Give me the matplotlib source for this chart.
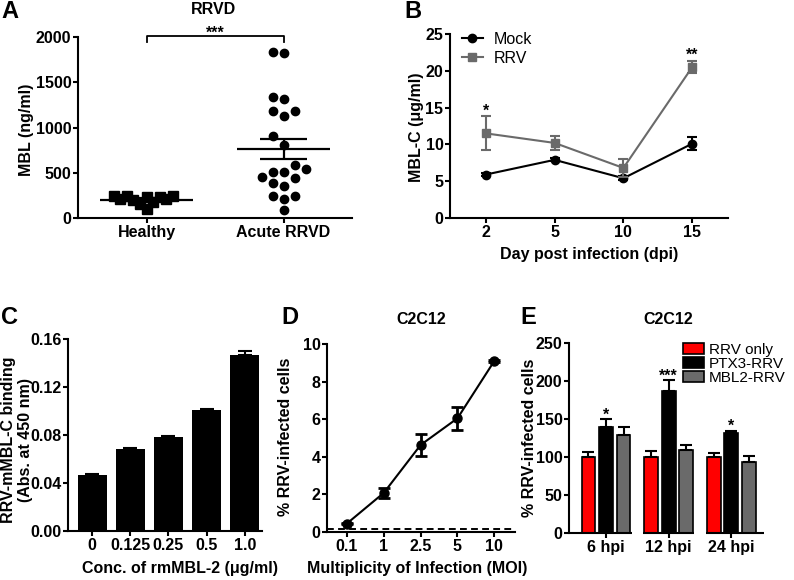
import numpy as np
import matplotlib
matplotlib.use("Agg")
import matplotlib.pyplot as plt
from matplotlib.lines import Line2D
from matplotlib.patches import Patch

# ---------------- data ----------------
# Panel A
a_groups = ["Healthy", "Acute RRVD"]
a_healthy = [240, 230, 245, 205, 235, 100, 240, 180, 160, 205, 195]
a_acute = [1820, 1830, 1311, 1333, 1182, 1182, 1127, 906, 806, 585, 541,
           505, 505, 445, 453, 357, 386, 243, 210, 243, 85]
a_title = "RRVD"
a_sig = "***"

# Panel B
b_days = ["2", "5", "10", "15"]
b_mock = [5.9, 7.9, 5.4, 10.1]
b_mock_err = [0.15, 0.2, 0.3, 0.85]
b_rrv = [11.5, 10.2, 6.8, 20.5]
b_rrv_err = [2.3, 1.0, 1.25, 0.85]
b_stars = ["*", "", "", "**"]

# Panel C
c_conc = ["0", "0.125", "0.25", "0.5", "1.0"]
c_binding = [0.0467, 0.068, 0.078, 0.1012, 0.1465]
c_binding_err = [0.0005, 0.001, 0.001, 0.0005, 0.0035]

# Panel D
d_moi = ["0.1", "1", "2.5", "5", "10"]
d_infected = [0.45, 2.08, 4.63, 6.05, 9.1]
d_infected_err = [0.05, 0.25, 0.6, 0.6, 0.05]
d_baseline = 0.15

# Panel E
e_hpi = ["6 hpi", "12 hpi", "24 hpi"]
e_series = ["RRV only", "PTX3-RRV", "MBL2-RRV"]
e_rrv_only = [100, 100, 100]
e_rrv_only_err = [7, 8, 5]
e_ptx3 = [139, 187, 131]
e_ptx3_err = [11, 14, 3.5]
e_mbl2 = [129, 109, 93]
e_mbl2_err = [10, 7, 8]
e_stars = ["*", "***", "*"]

# ---------------- style ----------------
FS = 11.5
plt.rcParams["font.family"] = ["Liberation Sans", "DejaVu Sans"]
plt.rcParams.update({
    "font.weight": "bold",
    "axes.linewidth": 1.5,
    "xtick.major.width": 1.5,
    "ytick.major.width": 1.5,
    "xtick.major.size": 3.5,
    "ytick.major.size": 3.5,
    "xtick.major.pad": 1.2,
    "ytick.major.pad": 1.2,
    "xtick.labelsize": FS,
    "ytick.labelsize": FS,
})
RED = "#ff0000"
GRAY = "#6a6a6a"
W, H = 794, 580

fig = plt.figure(figsize=(W / 100, H / 100), dpi=100)


def add_ax(l, t, r, b):
    ax = fig.add_axes([l / W, 1 - b / H, (r - l) / W, (b - t) / H])
    ax.spines["top"].set_visible(False)
    ax.spines["right"].set_visible(False)
    return ax


def ftext(x, y, s, **kw):
    kw.setdefault("ha", "center")
    kw.setdefault("va", "center")
    kw.setdefault("fontsize", FS)
    fig.text(x / W, 1 - y / H, s, **kw)


def swarm(ax, values, center, step_px=11.0, min_px=10.0):
    vals = np.asarray(values, dtype=float)
    ypx = ax.transData.transform(np.column_stack([np.full(len(vals), center), vals]))[:, 1]
    x0 = ax.transData.transform([[0, 0]])[0, 0]
    x1 = ax.transData.transform([[1, 0]])[0, 0]
    unit = x1 - x0
    placed = []
    offs = np.zeros(len(vals))
    for i in np.argsort(vals):
        for k in [0, -1, 1, -2, 2, -3, 3, -4, 4, -5, 5]:
            dx = k * step_px
            if all((dx - px) ** 2 + (ypx[i] - py) ** 2 >= min_px ** 2 for px, py in placed):
                break
        placed.append((dx, ypx[i]))
        offs[i] = dx
    return center + offs / unit


# ---------------- Panel A ----------------
axA = add_ax(78, 37, 352, 218)
axA.set_xlim(-0.5, 1.5)
axA.set_ylim(0, 2000)
axA.set_yticks([0, 500, 1000, 1500, 2000])
axA.set_xticks([0, 1])
axA.set_xticklabels(a_groups)
swarm_par = [(a_healthy, "s", 6.5, 6.6, 7.0), (a_acute, "o", 6, 11.0, 10.0)]
for i, (vals, mk, ms, step, mind) in enumerate(swarm_par):
    xs = swarm(axA, vals, i, step, mind)
    axA.plot(xs, vals, ls="none", marker=mk, ms=ms, color="black", clip_on=False, zorder=3)
    v = np.asarray(vals, float)
    m = v.mean()
    sem = v.std(ddof=1) / np.sqrt(len(v))
    axA.hlines(m, i - 0.34, i + 0.34, color="black", lw=1.6, zorder=4)
    axA.vlines(i, m - sem, m + sem, color="black", lw=1.6, zorder=4)
    axA.hlines([m - sem, m + sem], i - 0.175, i + 0.175, color="black", lw=1.6, zorder=4)
# significance bracket
yb, yt = 1945, 2012
axA.plot([0, 0, 1, 1], [yb, yt, yt, yb], color="black", lw=1.3, clip_on=False)
axA.annotate(a_sig, (0.5, yt), xytext=(0, -3.5), textcoords="offset points",
             ha="center", va="bottom", fontsize=FS, annotation_clip=False)
ftext(213, 9, a_title)
ftext(26, 130, "MBL (ng/ml)", rotation=90)
ftext(10, 12, "A", fontsize=17)

# ---------------- Panel B ----------------
axB = add_ax(450, 34, 728, 218)
xb = np.arange(len(b_days))
axB.set_xlim(-0.52, len(b_days) - 0.48)
axB.set_ylim(0, 25)
axB.set_yticks([0, 5, 10, 15, 20, 25])
axB.set_xticks(xb)
axB.set_xticklabels(b_days)
axB.errorbar(xb, b_mock, yerr=b_mock_err, fmt="-o", color="black", ms=6, lw=1.5,
             capsize=3.5, elinewidth=1.5, capthick=1.5, zorder=3)
axB.errorbar(xb, b_rrv, yerr=b_rrv_err, fmt="-s", color=GRAY, ms=6, lw=1.5,
             capsize=3.5, elinewidth=1.5, capthick=1.5, zorder=4)
for x, v, e, s in zip(xb, b_rrv, b_rrv_err, b_stars):
    if s:
        axB.annotate(s, (x, v + e), xytext=(0, -1.5), textcoords="offset points",
                     ha="center", va="bottom", fontsize=FS)
hb = [Line2D([], [], color="black", marker="o", ms=6, lw=1.5),
      Line2D([], [], color=GRAY, marker="s", ms=6, lw=1.5)]
axB.legend(hb, ["Mock", "RRV"], loc="upper left", bbox_to_anchor=(462 / W, 1 - 32 / H),
           bbox_transform=fig.transFigure, frameon=False, borderpad=0, borderaxespad=0,
           handlelength=1.3, handletextpad=0.7, labelspacing=0.25,
           prop={"weight": "normal", "size": 11.5})
ftext(589, 255, "Day post infection (dpi)")
ftext(417, 127, "MBL-C (\u03bcg/ml)", rotation=90)
ftext(413, 12, "B", fontsize=17)

# ---------------- Panel C ----------------
axC = add_ax(68, 339, 262, 531)
xc = np.arange(len(c_conc))
axC.set_xlim(-0.63, len(c_conc) - 0.55)
axC.set_ylim(0, 0.16)
axC.set_yticks([0, 0.04, 0.08, 0.12, 0.16])
axC.set_yticklabels([f"{t:.2f}" for t in [0, 0.04, 0.08, 0.12, 0.16]])
axC.set_xticks(xc)
axC.set_xticklabels(c_conc)
axC.bar(xc, c_binding, width=0.76, color="black", zorder=2)
axC.errorbar(xc, c_binding, yerr=[np.zeros(len(xc)), c_binding_err], fmt="none",
             ecolor="black", capsize=5, elinewidth=1.5, capthick=1.5, zorder=3)
ftext(180, 569, "Conc. of rmMBL-2 (\u03bcg/ml)")
ftext(17, 440, "RRV-mMBL-C binding\n(Abs. at 450 nm)", rotation=90, linespacing=1.15)
ftext(10, 317, "C", fontsize=17)

# ---------------- Panel D ----------------
axD = add_ax(327, 344, 515, 532)
xd = np.arange(len(d_moi))
axD.set_xlim(-0.54, len(d_moi) - 0.44)
axD.set_ylim(0, 10)
axD.set_yticks([0, 2, 4, 6, 8, 10])
axD.set_xticks(xd)
axD.set_xticklabels(d_moi)
axD.axhline(d_baseline, color="black", lw=1.4, ls=(0, (3.5, 2.2)), zorder=1)
axD.errorbar(xd, d_infected, yerr=d_infected_err, fmt="-o", color="black", ms=6.5, lw=1.5,
             capsize=4.5, elinewidth=2, capthick=2, zorder=3)
ftext(421, 319, "C2C12")
ftext(417, 569, "Multiplicity of Infection (MOI)")
ftext(286, 437, "% RRV-infected cells", rotation=90)
ftext(290, 317, "D", fontsize=17)

# ---------------- Panel E ----------------
axE = add_ax(569, 343, 764, 533)
xe = np.arange(len(e_hpi))
axE.set_xlim(-0.59, len(e_hpi) - 0.48)
axE.set_ylim(0, 250)
axE.set_yticks([0, 50, 100, 150, 200, 250])
axE.set_xticks(xe)
axE.set_xticklabels(e_hpi)
axE.spines["bottom"].set_visible(False)
lo, hi = axE.get_xlim()
seg = 0.41
for i in xe:
    a = lo if i == 0 else i - seg
    b = hi if i == len(xe) - 1 else i + seg
    axE.plot([a, b], [0, 0], color="black", lw=1.5, solid_capstyle="butt",
             clip_on=False, zorder=5)
bw, off = 0.22, 0.28
colors = [RED, "black", GRAY]
series = [(e_rrv_only, e_rrv_only_err), (e_ptx3, e_ptx3_err), (e_mbl2, e_mbl2_err)]
for j, ((vals, errs), c) in enumerate(zip(series, colors)):
    xx = xe + (j - 1) * off
    axE.bar(xx, vals, width=bw, color=c, edgecolor="black", linewidth=1.2, zorder=2)
    axE.errorbar(xx, vals, yerr=[np.zeros(len(xx)), errs], fmt="none", ecolor="black",
                 capsize=4.5, elinewidth=1.5, capthick=1.5, zorder=3)
for x, v, e, s in zip(xe, e_ptx3, e_ptx3_err, e_stars):
    axE.annotate(s, (x, v + e), xytext=(0, -2.5), textcoords="offset points",
                 ha="center", va="bottom", fontsize=FS)
he = [Patch(facecolor=c, edgecolor="black", linewidth=1.2) for c in colors]
axE.legend(he, e_series, loc="upper left", bbox_to_anchor=(683 / W, 1 - 343 / H),
           bbox_transform=fig.transFigure, frameon=False, borderpad=0, borderaxespad=0,
           handlelength=1.4, handleheight=0.75, handletextpad=0.3, labelspacing=0.0,
           prop={"weight": "normal", "size": 11})
ftext(668, 319, "C2C12")
ftext(530, 438, "% RRV-infected cells", rotation=90)
ftext(528, 317, "E", fontsize=17)

fig.savefig("out.png", dpi=100)
